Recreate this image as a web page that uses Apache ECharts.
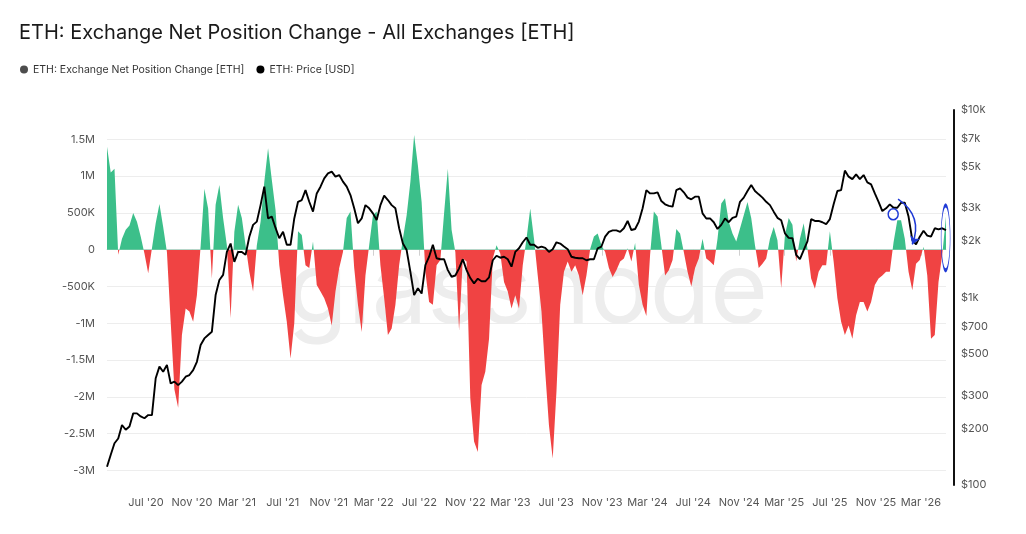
<!DOCTYPE html>
<html>
<head>
<meta charset="utf-8">
<title>ETH: Exchange Net Position Change - All Exchanges [ETH]</title>
<script src="https://cdn.jsdelivr.net/npm/echarts@6/dist/echarts.min.js"></script>
<style>
  html, body { margin: 0; padding: 0; background: #fff; }
  #chart { width: 1026px; height: 534px; }
</style>
</head>
<body>
<div id="chart"></div>
<script>
// sampling grid: one point every 10 days from the first date
var startDate = '2020-03-19';
var stepDays = 10;

// exchange net position change, thousand ETH
var netChange = [
  1400, 1050, 1100, -70, 150, 270, 330, 500, 380, 180,
  -50, -320, 20, 360, 620, 310, -30, -980, -1900, -2150,
  -1160, -800, -840, -980, -620, 50, 830, 560, -390, 610,
  880, 430, 60, -930, 245, 610, 430, 60, -300, -570,
  60, 380, 925, 1380, 950, 540, -210, -620, -980, -1480,
  -1000, 250, 200, -210, -250, 110, -480, -570, -660, -800,
  -1030, -570, -250, -30, 430, 520, -250, -750, -1120, -350,
  60, 470, 520, -210, -660, -1160, -1070, -750, -210, 150,
  470, 925, 1560, 1150, 650, -300, -710, -750, -210, -140,
  500, 1100, 270, -30, -1100, -120, -160, -2020, -2610, -2750,
  -1840, -1660, -1210, -120, 60, -50, -440, -570, -800, -620,
  -800, -210, 150, 560, 150, -350, -840, -1660, -2390, -2840,
  -1930, -750, -300, -160, -300, -210, -350, -620, -350, 10,
  180, 220, 60, -30, -250, -370, -280, -160, -120, 20,
  -160, 90, -480, -750, -900, -70, 520, 450, 60, -350,
  -280, -140, 280, 220, -30, -300, -500, -250, -120, 150,
  -120, -160, -210, 150, 630, 700, 380, 220, 110, 290,
  470, 650, 430, 60, -250, -190, -120, 150, 310, 130,
  -520, 200, 430, 340, -160, 150, 360, 20, -390, -530,
  -300, -210, -210, 250, -160, -660, -980, -1160, -1030, -1210,
  -890, -710, -710, -840, -710, -480, -390, -350, -300, -300,
  100, 400, 400, 150, -300, -550, -190, -140, 40, -350,
  -1210, -1160, -440, -70, 450
];

// ETH price, USD
var price = [
  125, 145, 167, 177, 209, 197, 205, 241, 241, 232,
  227, 236, 236, 371, 428, 402, 437, 348, 356, 341,
  356, 378, 386, 410, 454, 558, 605, 631, 657, 1030,
  1240, 1320, 1750, 1940, 1550, 1750, 1750, 1690, 2110, 2440,
  2540, 3110, 3900, 2640, 2700, 2350, 2070, 2240, 1910, 1910,
  2640, 3240, 3310, 3740, 3240, 2870, 3590, 3900, 4320, 4590,
  4690, 4410, 4500, 4150, 3900, 3520, 2990, 2490, 2640, 3110,
  2990, 2810, 2590, 3110, 3490, 3310, 3110, 2990, 2340, 1940,
  1790, 1370, 1030, 1120, 1050, 1490, 1650, 1910, 1620, 1600,
  1600, 1400, 1290, 1310, 1430, 1600, 1400, 1270, 1190, 1260,
  1220, 1220, 1280, 1580, 1670, 1630, 1650, 1600, 1460, 1750,
  1830, 1970, 2090, 1910, 1910, 1840, 1870, 1840, 1750, 1810,
  1970, 1940, 1870, 1810, 1650, 1630, 1620, 1620, 1580, 1600,
  1600, 1830, 1870, 2110, 2240, 2280, 2280, 2240, 2340, 2560,
  2290, 2320, 2540, 2990, 3740, 3590, 3590, 3640, 3270, 3140,
  3080, 3050, 3740, 3820, 3640, 3410, 3340, 3450, 3450, 2810,
  2640, 2640, 2520, 2320, 2440, 2640, 2520, 2660, 2700, 3240,
  3410, 3700, 3980, 3700, 3550, 3410, 3240, 3110, 2870, 2660,
  2580, 2200, 2080, 2070, 1690, 1600, 1790, 1990, 2620, 2560,
  2560, 2520, 2460, 2620, 3140, 3700, 3740, 4750, 4410, 4280,
  4540, 4280, 4500, 4110, 4010, 3590, 3240, 2890, 2990, 3140,
  3010, 3010, 3200, 3200, 2700, 2030, 1920, 2110, 2270, 2140,
  2110, 2340, 2310, 2340, 2290
];

var xTicks = [
  '2020-07-01', '2020-11-01', '2021-03-01', '2021-07-01', '2021-11-01', '2022-03-01',
  '2022-07-01', '2022-11-01', '2023-03-01', '2023-07-01', '2023-11-01', '2024-03-01',
  '2024-07-01', '2024-11-01', '2025-03-01', '2025-07-01', '2025-11-01', '2026-03-01'
];
var netTicks = [-3000000, -2500000, -2000000, -1500000, -1000000, -500000, 0, 500000, 1000000, 1500000];
var priceTicks = [100, 200, 300, 500, 700, 1000, 2000, 3000, 5000, 7000, 10000];

// hand-drawn blue marks on the price line: [date, price]
var circleMarks = [['2025-12-17', 2780], ['2026-05-06', 2080]];
var arrowMark = [['2025-12-30', 3350], ['2026-02-06', 1920]];

var DAY = 24 * 3600 * 1000;
var t0 = +new Date(startDate);
var netData = netChange.map(function (v, i) { return [t0 + i * stepDays * DAY, v * 1000]; });
var priceData = price.map(function (v, i) { return [t0 + i * stepDays * DAY, v]; });
var tEnd = t0 + (price.length - 1) * stepDays * DAY;

var MONTHS = ['Jan', 'Feb', 'Mar', 'Apr', 'May', 'Jun', 'Jul', 'Aug', 'Sep', 'Oct', 'Nov', 'Dec'];
var GREEN = '#3cbf8a', RED = '#f04343', BLUE = '#1f3ad6';
var NET_NAME = 'ETH: Exchange Net Position Change [ETH]';
var PRICE_NAME = 'ETH: Price [USD]';

function fmtNet(v) {
  if (v === 0) return '0';
  var a = Math.abs(v);
  var s = a >= 1e6 ? (a / 1e6) + 'M' : (a / 1e3) + 'K';
  return (v < 0 ? '-' : '') + s;
}
function fmtPrice(lv) {
  var p = Math.round(Math.pow(10, lv));
  return p >= 1000 ? '$' + (p / 1000) + 'k' : '$' + p;
}
function fmtDate(v) {
  var d = new Date(v);
  return MONTHS[d.getUTCMonth()] + " '" + String(d.getUTCFullYear()).slice(2);
}

var xTickTimes = xTicks.map(function (s) { return +new Date(s); });
var priceTickLogs = priceTicks.map(function (p) { return Math.log10(p); });

var myChart = echarts.init(document.getElementById('chart'));
var option = {
  animation: false,
  backgroundColor: '#fff',
  textStyle: { fontFamily: 'Inter, "Noto Sans", sans-serif' },
  title: {
    text: 'ETH: Exchange Net Position Change - All Exchanges [ETH]',
    left: 14, top: 18,
    textStyle: { fontSize: 20, fontWeight: 'normal', color: '#1a1a1a', fontFamily: 'Inter' }
  },
  legend: {
    left: 15, top: 59,
    icon: 'circle', itemWidth: 8, itemHeight: 8, itemGap: 12,
    textStyle: { fontSize: 10.5, color: '#333', fontFamily: 'Inter' },
    data: [
      { name: NET_NAME, itemStyle: { color: '#4d4d4d' } },
      { name: PRICE_NAME, itemStyle: { color: '#000' } }
    ]
  },
  graphic: [{
    type: 'text', left: 287, top: 244, z: -1, silent: true,
    style: { text: 'glassnode', fontSize: 99, fontFamily: 'Inter', fill: '#ededed' }
  }],
  grid: { left: 107, right: 80, top: 110, bottom: 49, containLabel: false, outerBoundsMode: 'none' },
  visualMap: [{
    type: 'piecewise', show: false, seriesIndex: 0, dimension: 1,
    pieces: [{ gt: 0, lte: 1e9, color: GREEN }, { gt: -1e9, lte: 0, color: RED }]
  }],
  xAxis: {
    // dates as timestamps on a value axis, labelled at month starts
    type: 'value', min: t0, max: tEnd,
    axisLine: { lineStyle: { color: '#dddddd' } },
    axisTick: { show: true, customValues: xTickTimes, length: 6, lineStyle: { color: '#d0d0d0' } },
    axisLabel: { customValues: xTickTimes, formatter: fmtDate, color: '#555', fontSize: 11, margin: 12 },
    splitLine: { show: false }
  },
  yAxis: [
    {
      type: 'value', min: -3200000, max: 1900000, position: 'left',
      axisLine: { show: false },
      axisTick: { show: false, customValues: netTicks },
      axisLabel: { customValues: netTicks, formatter: fmtNet, color: '#555', fontSize: 11, margin: 12 },
      splitLine: { show: true, lineStyle: { color: '#ededed' } }
    },
    {
      type: 'log', logBase: 10, min: 100, max: 10000, position: 'right', show: false
    },
    {
      // label axis for the log price scale
      type: 'value', min: 2, max: 4, position: 'right', offset: 8,
      axisLine: { show: true, lineStyle: { color: '#111', width: 2 } },
      axisTick: { show: false, customValues: priceTickLogs },
      axisLabel: { customValues: priceTickLogs, formatter: fmtPrice, color: '#555', fontSize: 11, margin: 7 },
      splitLine: { show: false }
    }
  ],
  series: [
    {
      name: NET_NAME, type: 'line', yAxisIndex: 0, data: netData,
      symbol: 'none', showSymbol: false,
      itemStyle: { color: '#4d4d4d' },
      lineStyle: { width: 0 },
      areaStyle: { opacity: 1 },
      z: 2, silent: true
    },
    {
      name: PRICE_NAME, type: 'line', yAxisIndex: 1, data: priceData,
      symbol: 'none', showSymbol: false,
      itemStyle: { color: '#000' },
      lineStyle: { color: '#000', width: 1.9 },
      z: 3, silent: true,
      markPoint: {
        silent: true, symbol: 'circle', label: { show: false },
        itemStyle: { color: 'rgba(0,0,0,0)', borderColor: BLUE, borderWidth: 1.5 },
        data: [
          { coord: [+new Date(circleMarks[0][0]), circleMarks[0][1]], symbolSize: [10, 11] },
          { coord: [+new Date(circleMarks[1][0]), circleMarks[1][1]], symbolSize: [9, 65] }
        ]
      }
    },
    {
      // curved blue arrow drawn over the price drop
      name: 'arrow', type: 'lines', coordinateSystem: 'cartesian2d',
      xAxisIndex: 0, yAxisIndex: 1, z: 4, silent: true,
      symbol: ['none', 'arrow'], symbolSize: 8,
      lineStyle: { color: BLUE, width: 1.5, opacity: 1, curveness: 0.4 },
      data: [{
        coords: [
          [+new Date(arrowMark[0][0]), arrowMark[0][1]],
          [+new Date(arrowMark[1][0]), arrowMark[1][1]]
        ]
      }]
    }
  ]
};
myChart.setOption(option);
</script>
</body>
</html>
